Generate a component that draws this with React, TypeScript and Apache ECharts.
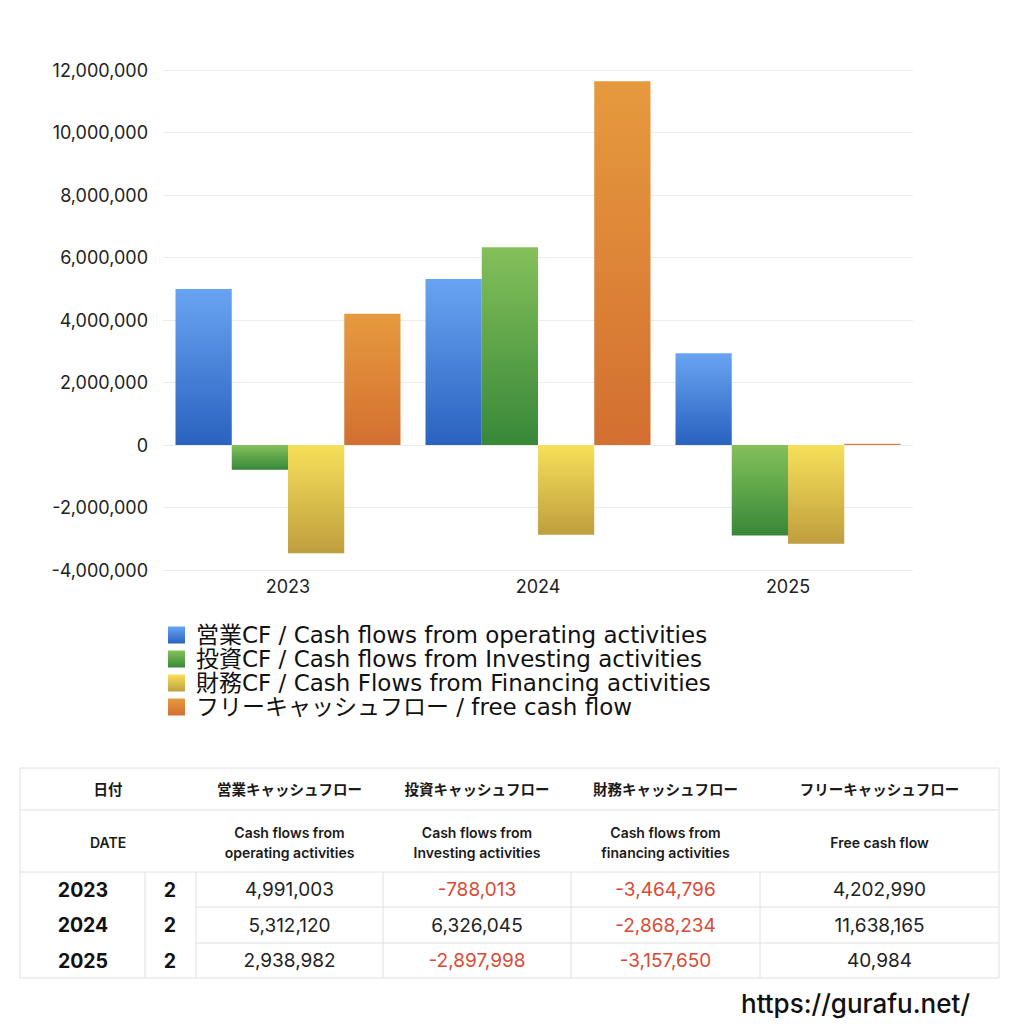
import React, { useEffect, useRef } from 'react';
import * as echarts from 'echarts';

const years = ['2023', '2024', '2025'];
const periods = ['2', '2', '2'];
const operating = [4991003, 5312120, 2938982];
const investing = [-788013, 6326045, -2897998];
const financing = [-3464796, -2868234, -3157650];
const freeCf = [4202990, 11638165, 40984];

const seriesNames = [
  '営業CF / Cash flows from operating activities',
  '投資CF / Cash flows from Investing activities',
  '財務CF / Cash Flows from Financing activities',
  'フリーキャッシュフロー / free cash flow'
];
const headJa = ['日付', '営業キャッシュフロー', '投資キャッシュフロー', '財務キャッシュフロー', 'フリーキャッシュフロー'];
const headEn = [
  ['DATE'],
  ['Cash flows from', 'operating activities'],
  ['Cash flows from', 'Investing activities'],
  ['Cash flows from', 'financing activities'],
  ['Free cash flow']
];

const FONT = 'Inter, "Noto Sans CJK JP", sans-serif';
const LEGEND_FONT = '"DejaVu Sans", "Noto Sans CJK JP", sans-serif';

const grad = (top: string, bottom: string) =>
  new echarts.graphic.LinearGradient(0, 0, 0, 1, [
    { offset: 0, color: top },
    { offset: 1, color: bottom }
  ]);

const fmt = (v: number) => v.toLocaleString('en-US');

function buildTable() {
  const els: any[] = [];
  const L = 20, R = 999;
  const rowY = [768, 810, 872, 907, 943, 978];
  const colX = [20, 145, 196, 383, 571, 760, 999];
  const line = (x1: number, y1: number, x2: number, y2: number) =>
    els.push({ type: 'line', shape: { x1, y1, x2, y2 }, style: { stroke: '#e0e0e0', lineWidth: 1 }, silent: true });
  const text = (t: string, x: number, y: number, size: number, weight: any, fill = '#1a1a1a') =>
    els.push({
      type: 'text',
      style: { text: t, x, y, fontSize: size, fontWeight: weight, fontFamily: FONT, fill, textAlign: 'center', textVerticalAlign: 'middle' }
    });

  // grid lines of the table
  line(L, rowY[0], R, rowY[0]);
  line(L, rowY[1], R, rowY[1]);
  line(L, rowY[2], R, rowY[2]);
  line(colX[2], rowY[3], R, rowY[3]);
  line(colX[2], rowY[4], R, rowY[4]);
  line(L, rowY[5], R, rowY[5]);
  line(L, rowY[0], L, rowY[5]);
  line(R, rowY[0], R, rowY[5]);
  for (let i = 1; i <= 5; i++) line(colX[i], rowY[2], colX[i], rowY[5]);

  const headCx = [108, 289.5, 477, 665.5, 879.5];
  headJa.forEach((t, i) => text(t, headCx[i], 789, 14.5, 'bold'));
  headEn.forEach((lines, i) => {
    if (lines.length === 1) text(lines[0], headCx[i], 842, 14, 600);
    else {
      text(lines[0], headCx[i], 832, 14, 600);
      text(lines[1], headCx[i], 852, 14, 600);
    }
  });

  const cols = [operating, investing, financing, freeCf];
  years.forEach((y, r) => {
    const cy = (rowY[2 + r] + rowY[3 + r]) / 2;
    text(y, 83, cy, 19.5, 'bold', '#111');
    text(periods[r], 170, cy, 19.5, 'bold', '#111');
    cols.forEach((c, k) => {
      const v = c[r];
      text(fmt(v), headCx[k + 1], cy, 19, 'normal', v < 0 ? '#d94a35' : '#222');
    });
  });

  els.push({
    type: 'text',
    style: { text: 'https://gurafu.net/', x: 970, y: 1003, fontSize: 26, fontWeight: 500, fontFamily: FONT, fill: '#111', textAlign: 'right', textVerticalAlign: 'middle' }
  });
  return els;
}

const App: React.FC = () => {
  const chartRef = useRef<HTMLDivElement>(null);

  useEffect(() => {
    if (!chartRef.current) return;
    const chart = echarts.init(chartRef.current, undefined, { renderer: 'svg' });

    const colors = [
      grad('#68a4f2', '#2a62bf'),
      grad('#84c05a', '#388839'),
      grad('#f6e05a', '#bf9e3e'),
      grad('#e69a3e', '#d36f31')
    ];
    const datasets = [operating, investing, financing, freeCf];

    chart.setOption({
      animation: false,
      textStyle: { fontFamily: FONT },
      grid: { left: 163, right: 111, top: 70, bottom: 454, containLabel: false },
      legend: {
        orient: 'vertical',
        left: 163,
        top: 618,
        itemWidth: 17,
        itemHeight: 17,
        itemGap: 0,
        icon: 'rect',
        textStyle: { fontSize: 23, color: '#111', lineHeight: 24, fontFamily: LEGEND_FONT, padding: [0, 0, 0, 6] },
        data: seriesNames
      },
      xAxis: {
        type: 'category',
        data: years,
        axisLine: { show: false },
        axisTick: { show: false },
        axisLabel: { fontSize: 18, color: '#222', margin: 7 }
      },
      yAxis: {
        type: 'value',
        min: -4000000,
        max: 12000000,
        interval: 2000000,
        axisLine: { show: false },
        axisTick: { show: false },
        axisLabel: { fontSize: 18, color: '#222', margin: 15, formatter: (v: number) => fmt(v) },
        splitLine: { lineStyle: { color: '#ececec', width: 1 } }
      },
      series: datasets.map((d, i) => ({
        name: seriesNames[i],
        type: 'bar',
        data: d,
        barGap: '0%',
        barCategoryGap: '10%',
        itemStyle: { color: colors[i] }
      })),
      graphic: buildTable()
    });

    return () => {
      chart.dispose();
    };
  }, []);

  return <div ref={chartRef} style={{ position: 'absolute', left: 0, top: 0, width: 1024, height: 1024, background: '#fff' }} />;
};

export default App;
